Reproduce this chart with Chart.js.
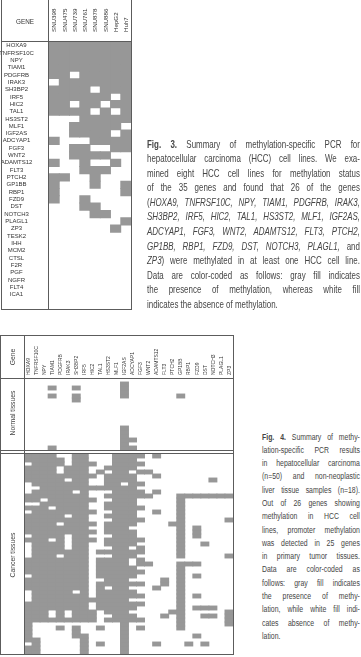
<!DOCTYPE html>
<html><head><meta charset="utf-8">
<script src="https://cdn.jsdelivr.net/npm/chart.js@4.4.1/dist/chart.umd.min.js"></script>
<style>
html,body{margin:0;padding:0;background:#fff;}
body{width:361px;height:657px;position:relative;overflow:hidden;font-family:"Liberation Sans",Arial,sans-serif;}
.ln{position:absolute;background:#5c5c5c;}
canvas{position:absolute;}
.cap{position:absolute;color:#454545;transform-origin:0 0;}
.cap div{white-space:nowrap;text-align:justify;text-align-last:justify;}
.cap div.last{text-align-last:left;}
.rot{position:absolute;color:#444;font-size:8px;white-space:nowrap;transform:translate(-50%,-50%) rotate(-90deg) scaleX(0.85);}
</style></head>
<body>
<canvas id="c3" width="131" height="309" style="left:0;top:0;width:131px;height:309px"></canvas>
<canvas id="c4" width="209" height="319" style="left:24px;top:335px;width:209px;height:319px"></canvas>

<!-- Fig 3 table lines -->
<div class="ln" style="left:1px;top:0;width:1px;height:310px"></div>
<div class="ln" style="left:48px;top:0;width:1px;height:310px"></div>
<div class="ln" style="left:131px;top:0;width:1px;height:310px"></div>
<div class="ln" style="left:1px;top:41px;width:131px;height:1px"></div>
<div class="ln" style="left:1px;top:309px;width:131px;height:1px"></div>
<div style="position:absolute;left:25px;top:21px;transform:translate(-50%,-50%) scaleX(0.88);font-size:7.2px;color:#333;">GENE</div>

<!-- Fig 4 table lines -->
<div class="ln" style="left:0;top:335px;width:234px;height:1px"></div>
<div class="ln" style="left:0;top:335px;width:1px;height:320px"></div>
<div class="ln" style="left:24px;top:335px;width:1px;height:320px"></div>
<div class="ln" style="left:233px;top:335px;width:1px;height:320px"></div>
<div class="ln" style="left:0;top:378px;width:234px;height:1px"></div>
<div class="ln" style="left:0;top:450px;width:234px;height:1px"></div>
<div class="ln" style="left:0;top:453px;width:234px;height:1px"></div>
<div class="ln" style="left:0;top:654px;width:234px;height:1px"></div>
<div class="rot" style="left:12px;top:357px;">Gene</div>
<div class="rot" style="left:12px;top:413px;">Normal tissues</div>
<div class="rot" style="left:12px;top:555px;">Cancer tissues</div>

<!-- Captions -->
<div class="cap" style="left:147px;top:137.5px;font-size:10.2px;line-height:14.6px;width:273px;transform:scaleX(0.78);">
<div><b>Fig. 3.</b> Summary of methylation-specific PCR for</div>
<div>hepatocellular carcinoma (HCC) cell lines. We exa-</div>
<div>mined eight HCC cell lines for methylation status</div>
<div>of the 35 genes and found that 26 of the genes</div>
<div>(<i>HOXA9, TNFRSF10C, NPY, TIAM1, PDGFRB, IRAK3,</i></div>
<div><i>SH3BP2, IRF5, HIC2, TAL1, HS3ST2, MLF1, IGF2AS,</i></div>
<div><i>ADCYAP1, FGF3, WNT2, ADAMTS12, FLT3, PTCH2,</i></div>
<div><i>GP1BB, RBP1, FZD9, DST, NOTCH3, PLAGL1,</i> and</div>
<div><i>ZP3</i>) were methylated in at least one HCC cell line.</div>
<div>Data are color-coded as follows: gray fill indicates</div>
<div>the presence of methylation, whereas white fill</div>
<div class="last">indicates the absence of methylation.</div>
</div>

<div class="cap" style="left:262px;top:429.5px;font-size:9.6px;line-height:13.3px;width:136px;transform:scaleX(0.72);">
<div><b>Fig. 4.</b> Summary of methy-</div>
<div>lation-specific PCR results</div>
<div>in hepatocellular carcinoma</div>
<div>(n=50) and non-neoplastic</div>
<div>liver tissue samples (n=18).</div>
<div>Out of 26 genes showing</div>
<div>methylation in HCC cell</div>
<div>lines, promoter methylation</div>
<div>was detected in 25 genes</div>
<div>in primary tumor tissues.</div>
<div>Data are color-coded as</div>
<div>follows: gray fill indicates</div>
<div>the presence of methy-</div>
<div>lation, while white fill indi-</div>
<div>cates absence of methy-</div>
<div class="last">lation.</div>
</div>

<script>
// ---------------- DATA ----------------
const cellLines = ['SNU398','SNU475','SNU739','SNU761','SNU878','SNU886','HepG2','Huh7'];
const genes = ['HOXA9','TNFRSF10C','NPY','TIAM1','PDGFRB','IRAK3','SH3BP2','IRF5','HIC2','TAL1',
  'HS3ST2','MLF1','IGF2AS','ADCYAP1','FGF3','WNT2','ADAMTS12','FLT3','PTCH2','GP1BB','RBP1','FZD9',
  'DST','NOTCH3','PLAGL1','ZP3','TESK2','IHH','MCM2','CTSL','F2R','PGF','NGFR','FLT4','ICA1'];
// Fig. 3: 1 = methylated (gray); one string per gene, one character per cell line
const cellLineMethylation = [
 '11111111','11111111','11111111','11111111','11011111','01111111','11110111','11111101',
 '11011011','11110101','00011111','00111110','00111101','10001111','00110011','00111100',
 '10010010','00011100','11001000','10001001','10000001','10010000','00011000','00001100',
 '00000001','00000010','00000000','00000000','00000000','00000000','00000000','00000000',
 '00000000','00000000','00000000'];
// Fig. 4: first 26 genes; one string per tissue sample, one character per gene
const tissueGenes = genes.slice(0, 26);
const normalTissues = [
 '00000000000000000000000000','00000000000010000000000000','00010010000010000000000000',
 '00000000000010000000000000','00010010000010000001000000','00000010000000000000000000',
 '00000000000000000000000000','00000000000000000000000000','00000000000000000000000000',
 '00000000000000000000000000','00000000000000000000000000','00000000000000000000000000',
 '00000000000010000000000000','00000000000010000000000000','00000000000010000000000000',
 '00000000000011000000000000','00000000000010000000000000','00010000000011000000000000'];
const cancerTissues = [
 '11110011000111101000000000','11111011000111000000000000','01111011100111100000000000',
 '11110111001111000000000000','11110111010110110000000000','11111111101111001000000000',
 '11111011001111000000000100','01111111001101100000000000','00111111111111000000000000',
 '01111101000111101000000000','11111111001111110001111111','11011111100111000001000000',
 '00111111001111000001000000','11101111001111100001000000','01111111100111001001000000',
 '11111011001111000001000000','11111111000111100001000001','11110111101111000011000000',
 '11111111001110000001010000','11111111101111000001010000','01111011000111000001010000',
 '11101011101111100001000000','01111011001111000001001000','01111011000110100001000000',
 '01111111011111100001000000','01110111000111000001000001','11111111011110100000000000',
 '11111111011110110001110000','11111111011111000001000000','11111111011111100001000000',
 '01111111011111000001010000','11111111001110000101000000','11111111011111100101000000',
 '11111111010110001001000000','01111101011111000001000000','01111111011111100001010000',
 '01111111111110000001000000','11111111011111100001000000','11111111011111000001011100',
 '11101011101110000011000001','11101011100111000101001101','11111111101111100001000001',
 '10000000000010000001000001','10001010010010100001000000','10000010000010000000000000',
 '10000011000010000000010000','11000001000010000000000000','01000001010010001000101000',
 '11000001000010000000000000','11000001000010000000000000'];

// ---------------- RENDER ----------------
const GRAY = '#979797';
const FONT = 'Liberation Sans, Arial, sans-serif';

function rowDatasets(rows, offsetFn) {
  return rows.map((r, i) => ({
    data: r.split('').map(ch => ch === '1' ? [offsetFn(i), offsetFn(i) + 1] : null),
    backgroundColor: GRAY, borderWidth: 0
  }));
}
// rotated column headers drawn at the category scale's value positions
const colLabels = {
  id: 'colLabels',
  afterDraw(chart, args, o) {
    const xs = chart.scales.x, ctx = chart.ctx;
    ctx.save();
    ctx.font = o.size + 'px ' + FONT;
    ctx.fillStyle = '#333';
    ctx.textAlign = 'left';
    ctx.textBaseline = 'middle';
    chart.data.labels.forEach((lab, i) => {
      ctx.save();
      ctx.translate(xs.getPixelForValue(i) + o.dx, o.y);
      ctx.rotate(-Math.PI / 2);
      ctx.fillText(lab, 0, 0);
      ctx.restore();
    });
    ctx.restore();
  }
};
const barOpts = {grouped:false, barPercentage:1, categoryPercentage:1, inflateAmount:0.45};
function baseOpts(padTop, labelOpts) {
  return {responsive:false, animation:false, events:[], layout:{padding:{top:padTop, left:0, right:0, bottom:0}},
    plugins:{legend:{display:false}, tooltip:{enabled:false}, colLabels:labelOpts}, datasets:{bar:barOpts}};
}

const mctx = document.createElement('canvas').getContext('2d');
mctx.font = '6px ' + FONT;
const widest3 = Math.max(...genes.map(g => mctx.measureText(g).width));

new Chart(document.getElementById('c3'), {
  type:'bar',
  data:{labels:cellLines, datasets:rowDatasets(cellLineMethylation, i => i)},
  plugins:[colLabels],
  options:Object.assign(baseOpts(42, {y:32, size:6.2, dx:0.5}), {
    scales:{
      x:{type:'category', display:false, ticks:{autoSkip:false}},
      y:{type:'linear', min:0, max:genes.length, reverse:true, grid:{display:false}, border:{display:false},
         afterBuildTicks(s){ s.ticks = genes.map((g, i) => ({value:i + 0.5})); },
         ticks:{autoSkip:false, crossAlign:'center', padding:Math.max(0, 24.5 - widest3 / 2),
                font:{size:6, family:FONT}, color:'#333', callback:(v, i) => genes[i]},
         afterFit(s){ s.width = 49; }}
    }
  })
});

// Fig. 4: normal rows 0..17, one blank unit as separator, cancer rows 19..68
const nNormal = normalTissues.length;
new Chart(document.getElementById('c4'), {
  type:'bar',
  data:{labels:tissueGenes, datasets:[
    ...rowDatasets(normalTissues, i => i),
    ...rowDatasets(cancerTissues, i => nNormal + 1 + i)]},
  plugins:[colLabels],
  options:Object.assign(baseOpts(43, {y:40, size:5, dx:0.3}), {
    scales:{
      x:{type:'category', display:false, ticks:{autoSkip:false}},
      y:{type:'linear', display:false, min:0, max:nNormal + 1 + cancerTissues.length, reverse:true}
    }
  })
});
</script>
</body></html>
